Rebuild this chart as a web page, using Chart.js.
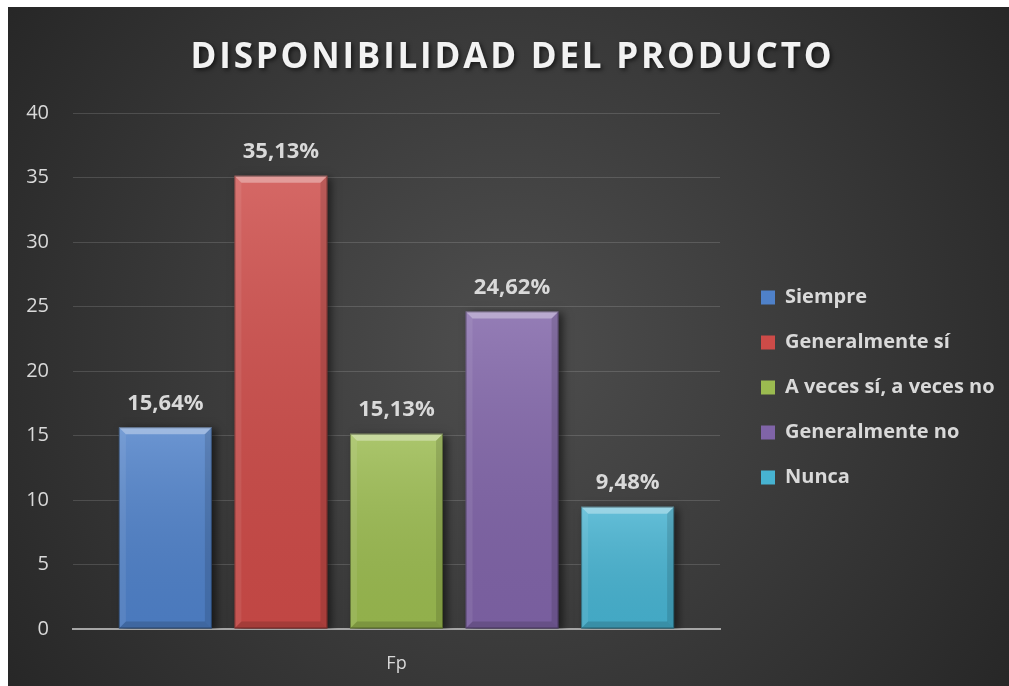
<!DOCTYPE html>
<html>
<head>
<meta charset="utf-8">
<script src="https://cdn.jsdelivr.net/npm/chart.js@4.4.1/dist/chart.umd.min.js"></script>
<style>
    html, body { margin: 0; padding: 0; background: #ffffff; }
    #wrap { position: absolute; left: 8px; top: 7px; width: 1001px; height: 679px; }
</style>
</head>
<body>
<div id="wrap"><canvas id="chartDisponibilidad"></canvas></div>
<script>
    var categorias = ['Fp'];
    var respuestas = ['Siempre', 'Generalmente sí', 'A veces sí, a veces no', 'Generalmente no', 'Nunca'];
    var porcentajes = [15.64, 35.13, 15.13, 24.62, 9.48];
    var colores = ['#4f81c9', '#cd4b48', '#9bbb50', '#8064a8', '#47b3d1'];
    var ticksY = [0, 5, 10, 15, 20, 25, 30, 35, 40];

    var textColor = '#d9d9d9';

    // fondo oscuro con degradado radial
    var fondoPlugin = {
        id: 'fondo',
        beforeDraw: function (chart) {
            var ctx = chart.ctx;
            var w = chart.width, h = chart.height;
            var g = ctx.createRadialGradient(w * 0.5, h * 0.5, 20, w * 0.5, h * 0.5, w * 0.62);
            g.addColorStop(0, '#4d4d4d');
            g.addColorStop(1, '#262626');
            ctx.save();
            ctx.fillStyle = g;
            ctx.fillRect(0, 0, w, h);
            ctx.restore();
        }
    };

    // sombra de las barras
    var sombraPlugin = {
        id: 'sombra',
        beforeDatasetsDraw: function (chart) {
            var ctx = chart.ctx;
            ctx.save();
            ctx.shadowColor = 'rgba(0,0,0,0.55)';
            ctx.shadowBlur = 8;
            ctx.shadowOffsetX = 4;
            ctx.shadowOffsetY = 2;
        },
        afterDatasetsDraw: function (chart) {
            chart.ctx.restore();
        }
    };

    // bisel + etiquetas de porcentaje
    var biselPlugin = {
        id: 'bisel',
        afterDatasetsDraw: function (chart) {
            var ctx = chart.ctx;
            chart.data.datasets.forEach(function (ds, i) {
                var meta = chart.getDatasetMeta(i);
                meta.data.forEach(function (bar, j) {
                    var p = bar.getProps(['x', 'y', 'base', 'width'], true);
                    var l = p.x - p.width / 2, r = p.x + p.width / 2, t = p.y, b = p.base;
                    var e = 7;
                    ctx.save();
                    var g = ctx.createLinearGradient(0, t, 0, b);
                    g.addColorStop(0, 'rgba(255,255,255,0.16)');
                    g.addColorStop(1, 'rgba(0,0,0,0.06)');
                    ctx.fillStyle = g;
                    ctx.fillRect(l, t, r - l, b - t);
                    // borde superior claro
                    ctx.fillStyle = 'rgba(255,255,255,0.35)';
                    ctx.beginPath();
                    ctx.moveTo(l, t); ctx.lineTo(r, t); ctx.lineTo(r - e, t + e); ctx.lineTo(l + e, t + e);
                    ctx.closePath(); ctx.fill();
                    // lados
                    ctx.fillStyle = 'rgba(255,255,255,0.08)';
                    ctx.beginPath();
                    ctx.moveTo(l, t); ctx.lineTo(l + e, t + e); ctx.lineTo(l + e, b - e); ctx.lineTo(l, b);
                    ctx.closePath(); ctx.fill();
                    ctx.fillStyle = 'rgba(0,0,0,0.12)';
                    ctx.beginPath();
                    ctx.moveTo(r, t); ctx.lineTo(r - e, t + e); ctx.lineTo(r - e, b - e); ctx.lineTo(r, b);
                    ctx.closePath(); ctx.fill();
                    ctx.fillStyle = 'rgba(0,0,0,0.15)';
                    ctx.beginPath();
                    ctx.moveTo(l, b); ctx.lineTo(l + e, b - e); ctx.lineTo(r - e, b - e); ctx.lineTo(r, b);
                    ctx.closePath(); ctx.fill();
                    ctx.strokeStyle = 'rgba(0,0,0,0.35)';
                    ctx.lineWidth = 1;
                    ctx.strokeRect(l + 0.5, t + 0.5, r - l - 1, b - t - 1);

                    // etiqueta
                    ctx.fillStyle = textColor;
                    ctx.font = 'bold 22px "Open Sans"';
                    ctx.textAlign = 'center';
                    ctx.textBaseline = 'middle';
                    var txt = ds.data[j].toFixed(2).replace('.', ',') + '%';
                    ctx.fillText(txt, p.x, t - 24);
                    ctx.restore();
                });
            });
        }
    };

    function buildChart() {
        var datasets = respuestas.map(function (r, i) {
            return {
                label: r,
                data: [porcentajes[i]],
                backgroundColor: colores[i],
                borderWidth: 0,
                categoryPercentage: 0.893,
                barPercentage: 0.805
            };
        });

        var chartEl = document.getElementById('chartDisponibilidad');
        var myChart = new Chart(chartEl, {
            type: 'bar',
            data: {
                labels: categorias,
                datasets: datasets
            },
            options: {
                responsive: true,
                maintainAspectRatio: false,
                animation: false,
                layout: {
                    padding: { left: 0, right: 0, top: 0, bottom: 0 }
                },
                plugins: {
                    title: {
                        display: true,
                        text: 'DISPONIBILIDAD DEL PRODUCTO',
                        color: '#f2f2f2',
                        font: { family: '"Open Sans"', size: 35, weight: 'bold' },
                        padding: { top: 30, bottom: 34 }
                    },
                    legend: {
                        display: true,
                        position: 'right',
                        labels: {
                            color: textColor,
                            font: { family: '"Open Sans"', size: 20, weight: 'bold' },
                            boxWidth: 14,
                            boxHeight: 14,
                            padding: 25
                        }
                    },
                    tooltip: { enabled: false }
                },
                scales: {
                    x: {
                        afterFit: function (scale) { scale.height = 57; },
                        grid: { display: false },
                        border: { display: true, color: '#a6a6a6', width: 2 },
                        ticks: {
                            color: textColor,
                            font: { family: '"Open Sans"', size: 18 },
                            padding: 16
                        }
                    },
                    y: {
                        min: 0,
                        max: 40,
                        afterFit: function (scale) { scale.width = 65; },
                        afterBuildTicks: function (scale) {
                            scale.ticks = ticksY.map(function (v) { return { value: v }; });
                        },
                        grid: {
                            color: 'rgba(255,255,255,0.14)',
                            lineWidth: 1,
                            drawTicks: false
                        },
                        border: { display: false },
                        ticks: {
                            color: textColor,
                            font: { family: '"Open Sans"', size: 20 },
                            padding: 24
                        }
                    }
                }
            },
            plugins: [fondoPlugin, sombraPlugin, biselPlugin]
        });

        // ancho fijo de la leyenda y desplazamiento de los elementos
        var legendFit = myChart.legend.fit;
        myChart.legend.fit = function () {
            legendFit.call(this);
            this.width = 289;
        };
        var legendDraw = myChart.legend.draw;
        myChart.legend.draw = function () {
            var ctx = this.ctx;
            ctx.save();
            ctx.translate(16, 41);
            legendDraw.apply(this, arguments);
            ctx.restore();
        };
        // titulo con espaciado y sombra
        var titleDraw = myChart.titleBlock.draw;
        myChart.titleBlock.draw = function () {
            var ctx = this.ctx;
            ctx.save();
            ctx.letterSpacing = '2.8px';
            ctx.translate(4, 0);
            ctx.shadowColor = 'rgba(0,0,0,0.6)';
            ctx.shadowBlur = 4;
            ctx.shadowOffsetX = 2;
            ctx.shadowOffsetY = 2;
            titleDraw.apply(this, arguments);
            ctx.restore();
        };
        myChart.update();
    }

    Promise.all([
        document.fonts.load('bold 35px "Open Sans"'),
        document.fonts.load('20px "Open Sans"')
    ]).then(buildChart, buildChart);
</script>
</body>
</html>
